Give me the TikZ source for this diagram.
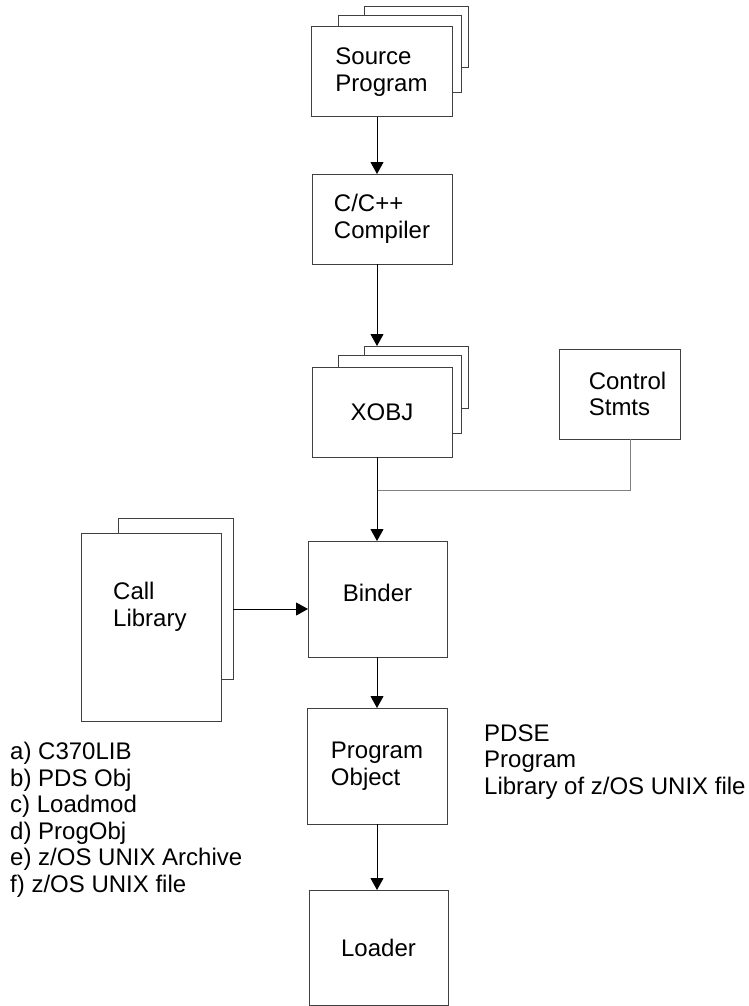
\documentclass[tikz,border=0pt]{standalone}
\usepackage{fontspec}
\setmainfont{Liberation Sans}
\usetikzlibrary{arrows.meta}
\begin{document}
\begin{tikzpicture}[x=1pt,y=-1pt,
  font=\fontsize{24}{26.5}\selectfont,
  box/.style={draw=black!75, line width=1pt, fill=white, inner sep=0pt, outer sep=0pt, align=left},
  txt/.style={align=left, inner sep=0pt},
  conn/.style={line width=1pt, draw=black, -{Triangle[width=13pt,length=12pt]}},
  plainline/.style={line width=1pt, draw=black!50},
]
\useasboundingbox (0,0) rectangle (748,1006);
\coordinate (axis) at (377,0);
\coordinate (ctlx) at (630,0);
\coordinate (join) at (377,490);
\coordinate (cly) at (0,609);

% Source Program stack
\node[box, minimum width=104pt, minimum height=61pt] (sb) at (416,37.5) {};
\node[box, minimum width=123pt, minimum height=77pt] (sm) at (399.5,54.5) {};
\node[box, minimum width=141pt, minimum height=90pt] (src) at (381.5,72) {Source\\Program};

% Compiler
\node[box, minimum width=140pt, minimum height=90pt] (cc) at (382,219) {C/C++\\Compiler};

% XOBJ stack
\node[box, minimum width=104pt, minimum height=62pt] (xb) at (416,377) {};
\node[box, minimum width=123pt, minimum height=78pt] (xm) at (399.5,394) {};
\node[box, minimum width=140pt, minimum height=90pt] (xf) at (382,412) {XOBJ};

% Control Stmts
\node[box, minimum width=121pt, minimum height=90pt, label={[txt, xshift=8pt]center:Control\\Stmts}] (ctl) at (619.5,394) {};

% Binder
\node[box, minimum width=139pt, minimum height=116pt, label={[txt, yshift=6pt]center:Binder}] (bind) at (377.5,599) {};

% Call Library stack
\node[box, minimum width=115pt, minimum height=161pt] (clb) at (175.5,598.5) {};
\node[box, minimum width=140pt, minimum height=188pt] (clf) at (151,627) {};
\node[txt, anchor=west] (cltext) at (113,607) {Call\\Library};

% Program Object
\node[box, minimum width=140pt, minimum height=116pt] (po) at (377,766) {Program\\Object};

% Loader
\node[box, minimum width=139pt, minimum height=115pt] (ld) at (378.5,947.5) {Loader};

% side texts
\node[txt, anchor=west] (list) at (10,820) {a) C370LIB\\b) PDS Obj\\c) Loadmod\\d) ProgObj\\e) z/OS UNIX Archive\\f) z/OS UNIX file};
\node[txt, anchor=west] (pdse) at (484,762) {PDSE\\Program\\Library of z/OS UNIX file};

% connectors
\draw[conn] (src.south -| axis) -- (cc.north -| axis);
\draw[conn] (cc.south -| axis) -- (xb.north -| axis);
\draw[plainline] (ctl.south -| ctlx) |- (join);
\draw[conn] (xf.south -| axis) -- (bind.north -| axis);
\draw[conn] (clb.east |- cly) -- (bind.west |- cly);
\draw[conn] (bind.south -| axis) -- (po.north -| axis);
\draw[conn] (po.south -| axis) -- (ld.north -| axis);
\end{tikzpicture}
\end{document}
